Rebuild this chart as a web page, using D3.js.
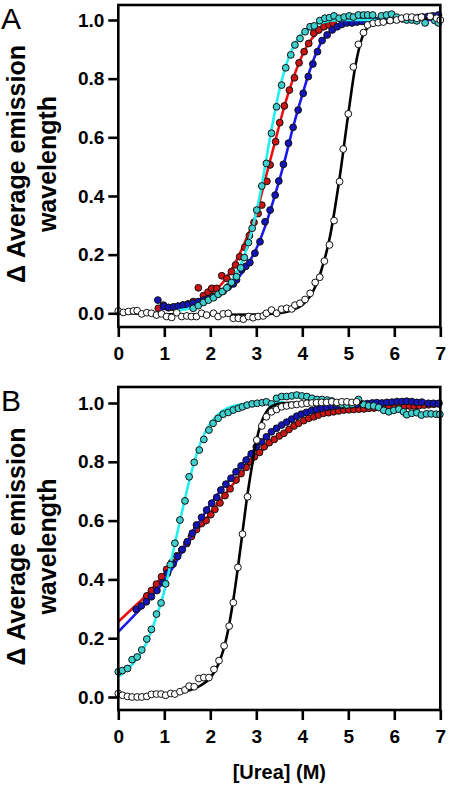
<!DOCTYPE html>
<html><head><meta charset="utf-8">
<script src="https://cdn.jsdelivr.net/npm/d3@7"></script>
<style>body{margin:0;background:#fff}svg{display:block}</style>
</head><body>
<script>
// ---------- tick labels / text ----------
const xTickValues = [0, 1, 2, 3, 4, 5, 6, 7];
const yTickValues = [0, 0.2, 0.4, 0.6, 0.8, 1.0];
const panelLabels = ["A", "B"];
const yLabelLines = ["\u0394 Average emission", "wavelength"];
const xLabelText = "[Urea] (M)";

// ---------- Panel A data [urea, value] ----------
const aWhite = [[0,.008],[0.11,.003],[0.22,.006],[0.33,.008],[0.41,.009],[0.51,-.002],[0.62,.002],[0.72,0],[0.83,-.006],[0.94,-.002],[1.05,-.011],[1.16,-.014],[1.27,.002],[1.38,-.011],[1.49,-.009],[1.59,-.011],[1.70,-.011],[1.81,0],[1.92,-.006],[2.07,0],[2.17,-.011],[2.28,-.002],[2.39,0],[2.50,-.017],[2.61,-.017],[2.72,-.02],[2.83,-.011],[2.93,-.015],[3.04,-.011],[3.15,-.009],[3.22,0],[3.33,.011],[3.44,0],[3.55,.014],[3.66,.017],[3.77,.015],[3.84,.028],[3.95,.034],[4.06,.047],[4.17,.068],[4.28,.105],[4.38,.123],[4.48,.178],[4.59,.233],[4.69,.316],[4.81,.449],[4.89,.56],[5.0,.68],[5.11,.84],[5.22,.917],[5.33,.957],[5.42,.983],[5.54,.989],[5.65,.991],[5.76,.993],[5.91,.998],[6.05,1.0],[6.16,1.006],[6.27,1.01],[6.38,1.01],[6.49,1.006],[6.59,1.01],[6.78,1.012],[6.92,1.006],[7.0,1.0]];
const aRed = [[0.87,.017],[0.98,.028],[1.09,.019],[1.20,.020],[1.30,.024],[1.41,.028],[1.52,.032],[1.63,.040],[1.74,.087],[1.85,.060],[1.95,.072],[2.03,.085],[2.14,.085],[2.25,.128],[2.36,.119],[2.46,.142],[2.55,.165],[2.64,.193],[2.75,.225],[2.85,.265],[2.95,.31],[3.04,.34],[3.12,.369],[3.23,.45],[3.30,.506],[3.42,.585],[3.51,.65],[3.61,.707],[3.72,.761],[3.83,.803],[3.93,.854],[4.04,.892],[4.14,.92],[4.25,.955],[4.36,.966],[4.47,.977],[4.58,.983],[4.67,.989]];
const aBlue = [[0.86,.045],[0.99,.025],[1.09,.02],[1.20,.022],[1.30,.024],[1.41,.028],[1.52,.03],[1.63,.035],[1.74,.04],[1.85,.045],[1.96,.05],[2.07,.057],[2.17,.065],[2.28,.075],[2.39,.09],[2.50,.10],[2.57,.114],[2.68,.148],[2.77,.16],[2.86,.173],[2.97,.205],[3.08,.244],[3.19,.312],[3.30,.352],[3.41,.403],[3.49,.451],[3.59,.508],[3.70,.58],[3.80,.634],[3.91,.693],[4.02,.75],[4.13,.807],[4.23,.85],[4.33,.892],[4.43,.93],[4.54,.949],[4.65,.966],[4.76,.977],[4.86,.985],[4.97,.99],[5.08,.99],[5.19,.993],[5.30,.995],[5.41,.996],[5.52,.997],[5.63,.998],[5.74,1.0],[5.85,1.0],[5.96,1.002],[6.07,1.003],[6.18,1.004],[6.29,1.005],[6.40,1.006],[6.51,1.008],[6.62,1.01],[6.73,1.012],[6.84,1.014],[6.96,1.017]];
const aCyan = [[1.63,.017],[1.74,.026],[1.85,.037],[1.96,.045],[2.07,.053],[2.17,.065],[2.26,.074],[2.36,.087],[2.46,.105],[2.57,.125],[2.66,.155],[2.74,.19],[2.83,.241],[2.91,.29],[3.01,.352],[3.12,.434],[3.22,.511],[3.33,.614],[3.44,.704],[3.55,.778],[3.64,.837],[3.75,.881],[3.84,.915],[3.95,.937],[4.06,.96],[4.17,.977],[4.26,.98],[4.38,.998],[4.49,1.006],[4.59,1.008],[4.69,1.014],[4.80,1.006],[4.91,1.01],[5.02,1.014],[5.11,1.01],[5.22,1.017],[5.33,1.017],[5.42,1.017],[5.53,1.017],[5.72,1.014],[5.83,1.017],[5.94,1.02],[6.05,1.01],[6.16,1.005],[6.27,1.0],[6.38,1.0],[6.49,.997],[6.67,.99],[6.88,.998],[6.96,.99]];
// fitted curves
const aWhiteFit = [[0,0],[1,-.003],[2,-.005],[3,-.004],[3.5,0],[3.8,.012],[4.0,.028],[4.2,.065],[4.4,.14],[4.6,.26],[4.8,.45],[5.0,.68],[5.15,.84],[5.3,.94],[5.45,.98],[5.6,.995],[6,1.0],[7,1.005]];
const aRedFit = [[0.9,.015],[1.3,.022],[1.7,.04],[2.0,.065],[2.3,.11],[2.6,.19],[2.8,.26],[3.0,.34],[3.2,.46],[3.4,.58],[3.6,.70],[3.8,.80],[4.0,.88],[4.2,.935],[4.4,.965],[4.6,.985],[4.75,.99]];
const aBlueFit = [[0.9,.015],[1.5,.02],[2.0,.045],[2.4,.085],[2.7,.14],[3.0,.22],[3.2,.3],[3.4,.40],[3.6,.51],[3.8,.635],[4.0,.745],[4.2,.845],[4.4,.92],[4.6,.96],[4.8,.985],[5.0,.995],[5.5,1.0],[7,1.0]];
const aCyanFit = [[1.3,.01],[1.6,.018],[1.9,.035],[2.2,.065],[2.5,.12],[2.7,.18],[2.9,.28],[3.1,.42],[3.3,.60],[3.5,.76],[3.7,.87],[3.9,.935],[4.1,.97],[4.4,.99],[4.8,1.0],[6.2,1.0]];

// ---------- Panel B data ----------
const bWhite = [[0,.012],[0.09,.006],[0.2,.002],[0.3,0],[0.41,0],[0.51,0],[0.62,.002],[0.72,.009],[0.83,.01],[0.93,.01],[1.03,.006],[1.14,.012],[1.23,.01],[1.34,.018],[1.45,.024],[1.54,.037],[1.65,.035],[1.75,.063],[1.86,.066],[1.97,.066],[2.08,.094],[2.19,.124],[2.30,.174],[2.41,.241],[2.50,.321],[2.60,.441],[2.70,.554],[2.81,.681],[3.01,.874],[3.12,.922],[3.22,.953],[3.33,.97],[3.44,.978],[3.55,.987],[3.66,.99],[3.77,.993],[3.88,.995],[3.99,.997],[4.10,.999],[4.21,1.0],[4.31,1.001],[4.42,1.002],[4.53,1.002],[4.64,1.004],[4.75,1.002],[4.86,1.004],[4.97,1.004],[5.08,1.002],[5.18,1.004]];
const bRed = [[0.62,.344],[0.72,.362],[0.83,.384],[0.94,.409],[1.05,.434],[1.16,.457],[1.27,.48],[1.38,.50],[1.49,.522],[1.59,.546],[1.70,.57],[1.81,.59],[1.91,.60],[2.01,.62],[2.10,.638],[2.21,.66],[2.32,.685],[2.43,.708],[2.56,.738],[2.67,.76],[2.78,.781],[2.87,.80],[2.96,.817],[3.07,.832],[3.17,.851],[3.28,.865],[3.39,.876],[3.50,.888],[3.60,.897],[3.71,.91],[3.82,.922],[3.92,.931],[4.03,.94],[4.14,.948],[4.25,.953],[4.35,.959],[4.46,.965],[4.57,.967],[4.68,.97],[4.79,.973],[4.90,.976],[5.01,.977],[5.12,.978],[5.23,.979],[5.34,.98],[5.45,.982],[5.56,.983],[5.66,.985],[5.77,.986],[5.88,.986],[6.00,.987],[6.11,.988],[6.22,.989],[6.33,.99],[6.43,.99],[6.54,.991],[6.65,.993],[6.75,.994],[6.86,.996],[6.97,.999]];
const bBlue = [[0.39,.298],[0.50,.31],[0.61,.324],[0.72,.341],[0.84,.362],[0.97,.389],[1.07,.421],[1.19,.452],[1.29,.478],[1.39,.502],[1.50,.528],[1.61,.557],[1.70,.585],[1.81,.611],[1.92,.636],[2.03,.659],[2.14,.679],[2.23,.704],[2.34,.724],[2.45,.744],[2.56,.766],[2.67,.786],[2.78,.806],[2.89,.827],[3.00,.851],[3.11,.868],[3.22,.885],[3.33,.902],[3.44,.914],[3.55,.925],[3.66,.935],[3.77,.945],[3.88,.955],[3.98,.962],[4.09,.968],[4.20,.974],[4.31,.978],[4.42,.982],[4.53,.985],[4.64,.988],[4.75,.99],[4.86,.992],[4.97,.993],[5.08,.994],[5.19,.995],[5.30,.997],[5.41,.998],[5.52,1.0],[5.62,1.001],[5.73,1.0],[5.84,1.002],[5.95,1.003],[6.06,1.005],[6.17,1.005],[6.27,1.006],[6.38,1.005],[6.49,1.002],[6.60,1.003],[6.74,.999],[6.85,.999],[6.96,.997]];
const bCyan = [[0,.086],[0.09,.09],[0.2,.097],[0.3,.127],[0.41,.136],[0.51,.16],[0.62,.197],[0.72,.23],[0.83,.282],[0.93,.32],[1.03,.385],[1.13,.45],[1.23,.523],[1.34,.602],[1.45,.667],[1.54,.749],[1.65,.798],[1.76,.84],[1.86,.876],[1.97,.908],[2.06,.931],[2.17,.948],[2.28,.962],[2.39,.968],[2.50,.976],[2.61,.982],[2.70,.987],[2.80,.993],[2.91,.997],[3.02,.999],[3.13,1.001],[3.22,1.004],[3.33,.997],[3.44,1.016],[3.55,1.022],[3.66,1.022],[3.77,1.024],[3.88,1.027],[3.99,1.024],[4.10,1.022],[4.21,1.016],[4.32,1.012],[4.43,1.012],[4.54,1.01],[4.64,1.007],[4.75,.999],[4.86,.995],[4.97,.993],[5.08,.995],[5.22,1.012],[5.33,.995],[5.44,.99],[5.55,.99],[5.66,.985],[5.77,.975],[5.88,.97],[5.99,.975],[6.10,.979],[6.20,.97],[6.27,.96],[6.38,.965],[6.49,.967],[6.59,.959],[6.70,.963],[6.80,.963],[6.91,.962],[6.99,.961]];
const bWhiteFit = [[0,.005],[1.0,.008],[1.5,.02],[1.8,.04],[2.0,.065],[2.2,.12],[2.35,.2],[2.5,.33],[2.6,.44],[2.7,.56],[2.8,.68],[2.9,.78],[3.0,.87],[3.1,.93],[3.2,.965],[3.35,.99],[3.6,1.0],[5.3,1.003]];
const bRedFit = [[0,.256],[0.3,.30],[0.6,.345],[1.0,.42],[1.5,.525],[2.0,.625],[2.5,.725],[3.0,.82],[3.5,.888],[4.0,.935],[4.5,.962],[5.0,.977],[5.5,.984],[6.0,.99],[6.5,.995],[7.0,1.0]];
const bBlueFit = [[0,.222],[0.3,.27],[0.6,.32],[1.0,.395],[1.5,.525],[2.0,.655],[2.5,.755],[3.0,.85],[3.5,.92],[4.0,.962],[4.5,.985],[5.0,.995],[5.5,1.0],[6.0,1.003],[7.0,1.005]];
const bCyanFit = [[0,.069],[0.3,.11],[0.6,.18],[0.8,.26],[1.0,.36],[1.2,.5],[1.4,.64],[1.6,.77],[1.8,.87],[2.0,.93],[2.2,.965],[2.5,.99],[3.0,1.0],[3.6,1.003]];

// ---------- styling ----------
const colors = {
  red:  {fill: "#cc1414", line: "#e81010"},
  blue: {fill: "#1414b8", line: "#1a1aee"},
  cyan: {fill: "#3ecfcf", line: "#22f0f0"},
  white:{fill: "#ffffff", line: "#000000"}
};
const FONT = "'Liberation Sans', Arial, sans-serif";

const panels = [
  {label: panelLabels[0], top: 5, bottom: 327, y0: 313.3, y1: 20, labelY: 29,
   series: [["red", aRed, aRedFit], ["blue", aBlue, aBlueFit], ["cyan", aCyan, aCyanFit], ["white", aWhite, aWhiteFit]]},
  {label: panelLabels[1], top: 387, bottom: 710, y0: 697, y1: 403, labelY: 411,
   series: [["red", bRed, bRedFit], ["blue", bBlue, bBlueFit], ["cyan", bCyan, bCyanFit], ["white", bWhite, bWhiteFit]]}
];

const W = 450, H = 789;
const left = 118.3, right = 440.3;
const svg = d3.select("body").append("svg").attr("width", W).attr("height", H);

const x = d3.scaleLinear().domain([0, 7]).range([left, right]);

panels.forEach(p => {
  const y = d3.scaleLinear().domain([0, 1]).range([p.y0, p.y1]);
  const g = svg.append("g");
  const clipId = "clip" + p.label;
  svg.append("clipPath").attr("id", clipId).append("rect")
    .attr("x", left - 6).attr("y", p.top - 6).attr("width", right - left + 12).attr("height", p.bottom - p.top + 12);

  const plot = g.append("g").attr("clip-path", `url(#${clipId})`);
  const line = d3.line().x(d => x(d[0])).y(d => y(d[1])).curve(d3.curveMonotoneX);

  p.series.forEach(([key, pts, fit]) => {
    plot.append("path").datum(fit).attr("d", line)
      .attr("fill", "none").attr("stroke", colors[key].line).attr("stroke-width", 2.6);
    plot.selectAll(null).data(pts).enter().append("circle")
      .attr("cx", d => x(d[0])).attr("cy", d => y(d[1])).attr("r", 3.4)
      .attr("fill", colors[key].fill).attr("stroke", "#111").attr("stroke-width", 1);
  });

  // frame
  g.append("rect").attr("x", left).attr("y", p.top).attr("width", right - left).attr("height", p.bottom - p.top)
    .attr("fill", "none").attr("stroke", "#000").attr("stroke-width", 2.6);

  // y axis
  const ya = g.append("g").attr("transform", `translate(${left},0)`)
    .call(d3.axisLeft(y).tickValues(yTickValues).tickSize(10).tickPadding(4).tickFormat(d3.format(".1f")));
  ya.select(".domain").remove();
  ya.selectAll(".tick line").attr("stroke", "#000").attr("stroke-width", 2.6);
  ya.selectAll(".tick text").attr("font-family", FONT).attr("font-weight", "bold").attr("font-size", 19).attr("fill", "#000");

  // x axis
  const xa = g.append("g").attr("transform", `translate(0,${p.bottom})`)
    .call(d3.axisBottom(x).tickValues(xTickValues).tickSize(10).tickPadding(10).tickFormat(d3.format("d")));
  xa.select(".domain").remove();
  xa.selectAll(".tick line").attr("stroke", "#000").attr("stroke-width", 2.6);
  xa.selectAll(".tick text").attr("font-family", FONT).attr("font-weight", "bold").attr("font-size", 19).attr("fill", "#000");

  // panel letter
  svg.append("text").attr("x", 1).attr("y", p.labelY).text(p.label)
    .attr("font-family", FONT).attr("font-size", 30).attr("fill", "#000");

  // y label
  const cy = (p.top + p.bottom) / 2 - 2;
  const yl = svg.append("text").attr("transform", `translate(0,${cy}) rotate(-90)`)
    .attr("text-anchor", "middle").attr("font-family", FONT).attr("font-weight", "bold").attr("font-size", 25).attr("fill", "#000");
  yl.append("tspan").attr("x", 0).attr("y", 25).text(yLabelLines[0]);
  yl.append("tspan").attr("x", 0).attr("y", 56).text(yLabelLines[1]);
});

svg.append("text").attr("x", (left + right) / 2).attr("y", 779).attr("text-anchor", "middle")
  .attr("font-family", FONT).attr("font-weight", "bold").attr("font-size", 20).attr("fill", "#000").text(xLabelText);
</script>
</body></html>
